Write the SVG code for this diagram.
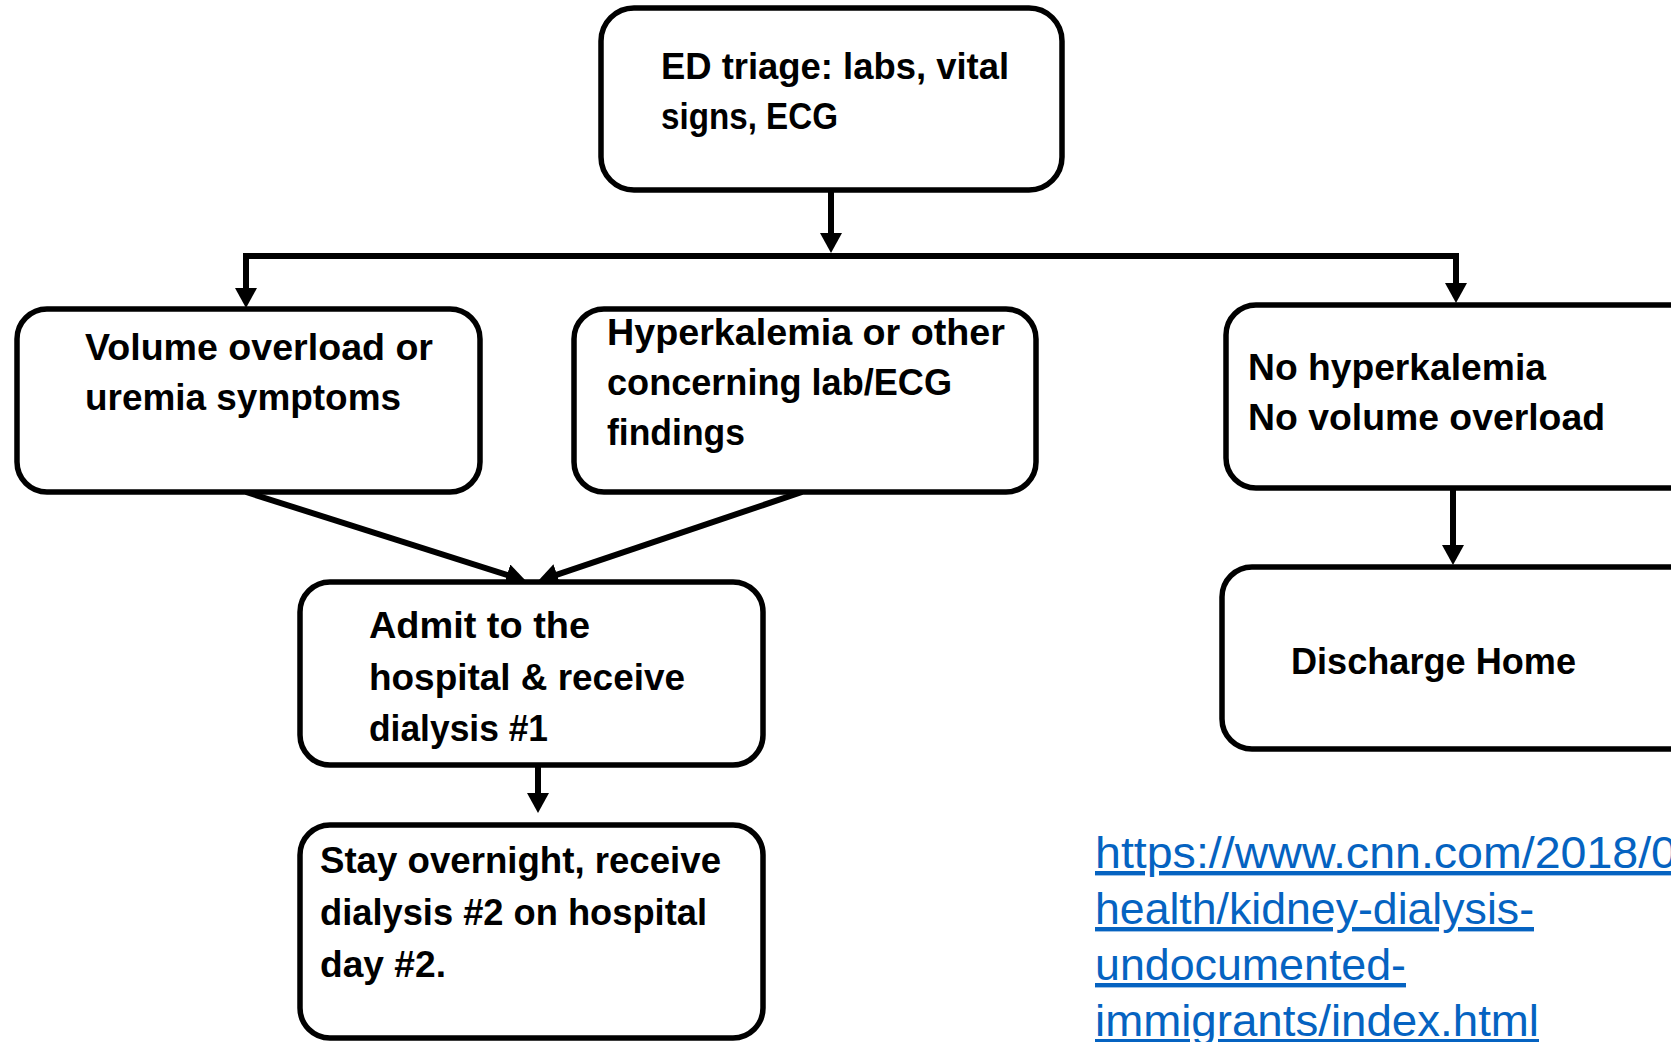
<svg xmlns="http://www.w3.org/2000/svg" width="1671" height="1042" viewBox="0 0 1671 1042">
<defs>
<marker id="arr" viewBox="0 0 20 22" refX="10" refY="11" markerWidth="20" markerHeight="22" markerUnits="userSpaceOnUse" orient="auto">
<path d="M0,0 L20,11 L0,22 z" fill="#000"/>
</marker>
</defs>
<style>
.box{fill:#fff;stroke:#000;stroke-width:5.5}
.t{font-family:"Liberation Sans",Arial,sans-serif;font-weight:bold;font-size:37px;fill:#000}
.c{fill:none;stroke:#000;stroke-width:6}
.link{font-family:"Liberation Sans",Arial,sans-serif;font-size:44px;fill:#0563C1;text-decoration:underline}
</style>
<rect width="1671" height="1042" fill="#fff"/>
<g id="connectors">
<path class="c" d="M831,190 L831,243" marker-end="url(#arr)"/>
<path class="c" d="M246,256 L1456,256" stroke-linecap="square"/>
<path class="c" d="M246,256 L246,298" marker-end="url(#arr)"/>
<path class="c" d="M1456,256 L1456,293" marker-end="url(#arr)"/>
<path class="c" d="M246,492 L516.5,578" marker-end="url(#arr)"/>
<path class="c" d="M802,492 L547.5,577.8" marker-end="url(#arr)"/>
<path class="c" d="M538,765 L538,803" marker-end="url(#arr)"/>
<path class="c" d="M1453,488 L1453,555" marker-end="url(#arr)"/>
</g>
<g id="n_triage">
<rect class="box" x="601" y="8" width="461" height="182" rx="33"/>
<text class="t" x="661" y="79" textLength="348" lengthAdjust="spacingAndGlyphs">ED triage: labs, vital</text>
<text class="t" x="661" y="129" textLength="177" lengthAdjust="spacingAndGlyphs">signs, ECG</text>
</g>
<g id="n_volume">
<rect class="box" x="17" y="309" width="463" height="183" rx="30"/>
<text class="t" x="85" y="360" textLength="348" lengthAdjust="spacingAndGlyphs">Volume overload or</text>
<text class="t" x="85" y="410" textLength="316" lengthAdjust="spacingAndGlyphs">uremia symptoms</text>
</g>
<g id="n_hyper">
<rect class="box" x="574" y="309" width="462" height="183" rx="30"/>
<text class="t" x="607" y="345" textLength="398" lengthAdjust="spacingAndGlyphs">Hyperkalemia or other</text>
<text class="t" x="607" y="395" textLength="345" lengthAdjust="spacingAndGlyphs">concerning lab/ECG</text>
<text class="t" x="607" y="445" textLength="138" lengthAdjust="spacingAndGlyphs">findings</text>
</g>
<g id="n_nohyper">
<rect class="box" x="1226" y="305" width="520" height="183" rx="30"/>
<text class="t" x="1248" y="380" textLength="298" lengthAdjust="spacingAndGlyphs">No hyperkalemia</text>
<text class="t" x="1248" y="430" textLength="357" lengthAdjust="spacingAndGlyphs">No volume overload</text>
</g>
<g id="n_discharge">
<rect class="box" x="1222" y="567" width="520" height="182" rx="30"/>
<text class="t" x="1291" y="674" textLength="285" lengthAdjust="spacingAndGlyphs">Discharge Home</text>
</g>
<g id="n_admit">
<rect class="box" x="300" y="582" width="463" height="183" rx="30"/>
<text class="t" x="369" y="638" textLength="221" lengthAdjust="spacingAndGlyphs">Admit to the</text>
<text class="t" x="369" y="690" textLength="316" lengthAdjust="spacingAndGlyphs">hospital &amp; receive</text>
<text class="t" x="369" y="741" textLength="179" lengthAdjust="spacingAndGlyphs">dialysis #1</text>
</g>
<g id="n_stay">
<rect class="box" x="300" y="825" width="463" height="213" rx="30"/>
<text class="t" x="320" y="873" textLength="401" lengthAdjust="spacingAndGlyphs">Stay overnight, receive</text>
<text class="t" x="320" y="925" textLength="387" lengthAdjust="spacingAndGlyphs">dialysis #2 on hospital</text>
<text class="t" x="320" y="977" textLength="126" lengthAdjust="spacingAndGlyphs">day #2.</text>
</g>
<g id="link">
<text class="link" x="1095" y="868" textLength="582" lengthAdjust="spacingAndGlyphs">https://www.cnn.com/2018/0</text>
<text class="link" x="1095" y="924" textLength="439" lengthAdjust="spacingAndGlyphs">health/kidney-dialysis-</text>
<text class="link" x="1095" y="980" textLength="311" lengthAdjust="spacingAndGlyphs">undocumented-</text>
<text class="link" x="1095" y="1036" textLength="444" lengthAdjust="spacingAndGlyphs">immigrants/index.html</text>
</g>
</svg>
